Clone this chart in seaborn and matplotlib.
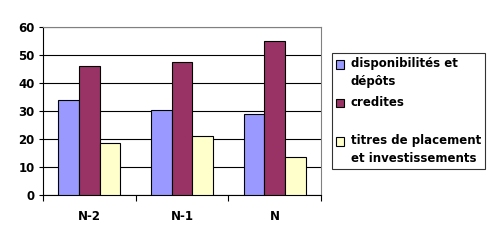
import matplotlib
matplotlib.use("Agg")
import matplotlib.pyplot as plt
import seaborn as sns
import pandas as pd
import numpy as np
from matplotlib.patches import Rectangle
from matplotlib.legend_handler import HandlerPatch

categories = ["N-2", "N-1", "N"]
series_names = ["disponibilités et\ndépôts", "credites", "titres de placement\net investissements"]
dispo = [33.8, 30.2, 28.8]
credites = [46.2, 47.4, 54.9]
titres = [18.5, 21.0, 13.5]
colors = ["#9999FF", "#993366", "#FFFFCC"]

rows = []
for name, vals in zip(series_names, [dispo, credites, titres]):
    for c, v in zip(categories, vals):
        rows.append({"cat": c, "series": name, "value": v})
df = pd.DataFrame(rows)

sns.set_theme(style="white")
plt.rcParams["font.family"] = ["DejaVu Sans"]
plt.rcParams["font.weight"] = "bold"
plt.rcParams["text.color"] = "black"
plt.rcParams["xtick.color"] = "black"
plt.rcParams["ytick.color"] = "black"

fig = plt.figure(figsize=(4.99, 2.43), dpi=100)
ax = fig.add_axes([43 / 499, 48 / 243, 278 / 499, 168 / 243])

sns.barplot(data=df, x="cat", y="value", hue="series", order=categories,
            hue_order=series_names, palette=colors, width=0.67,
            edgecolor="black", linewidth=0.8, saturation=1, ax=ax, zorder=3)

ax.set_ylim(0, 60)
ax.set_xlim(-0.5, 2.5)
ax.set_yticks(np.arange(0, 61, 10))
ax.yaxis.grid(True, color="black", linewidth=0.8, zorder=0)
ax.set_axisbelow(True)
ax.set_xlabel("")
ax.set_ylabel("")

for s in ["top", "right"]:
    ax.spines[s].set_color("#808080")
    ax.spines[s].set_linewidth(0.8)
for s in ["left", "bottom"]:
    ax.spines[s].set_color("black")
    ax.spines[s].set_linewidth(0.8)

ax.tick_params(axis="y", which="major", direction="out", length=3, width=0.8,
               color="black", labelsize=8.5, pad=3, left=True, labelcolor="black")
ax.tick_params(axis="x", which="major", length=0, labelsize=8.5, pad=11, labelcolor="black")
ax.set_xticks([-0.5, 0.5, 1.5, 2.5], minor=True)
ax.tick_params(axis="x", which="minor", direction="out", length=4, width=0.8,
               color="black", bottom=True)
for lab in ax.get_xticklabels() + ax.get_yticklabels():
    lab.set_fontweight("bold")


def top_square(legend, orig_handle, xdescent, ydescent, width, height, fontsize):
    s = 0.7 * fontsize
    return Rectangle((-xdescent, -ydescent + height - s + 0.17 * fontsize), s, s)


handles, labels = ax.get_legend_handles_labels()
labels = ["disponibilités et\ndépôts", "credites\n ", "titres de placement\net investissements"]
fs = 8.5
leg = ax.legend(handles, labels, loc="upper left", bbox_to_anchor=(332 / 499, 190 / 243),
                bbox_transform=fig.transFigure, frameon=True, fancybox=False,
                edgecolor="black", prop={"size": fs, "weight": "bold"},
                handlelength=0.72, handleheight=2.6, handletextpad=0.5,
                labelspacing=0.68, borderpad=0.35, borderaxespad=0,
                handler_map={h: HandlerPatch(patch_func=top_square) for h in handles})
leg.get_frame().set_linewidth(0.8)
for t in leg.get_texts():
    t.set_linespacing(1.45)
    t.set_color("black")
for p in leg.get_patches():
    p.set_linewidth(0.8)
    p.set_edgecolor("black")

fig.savefig("out.png", dpi=100)
